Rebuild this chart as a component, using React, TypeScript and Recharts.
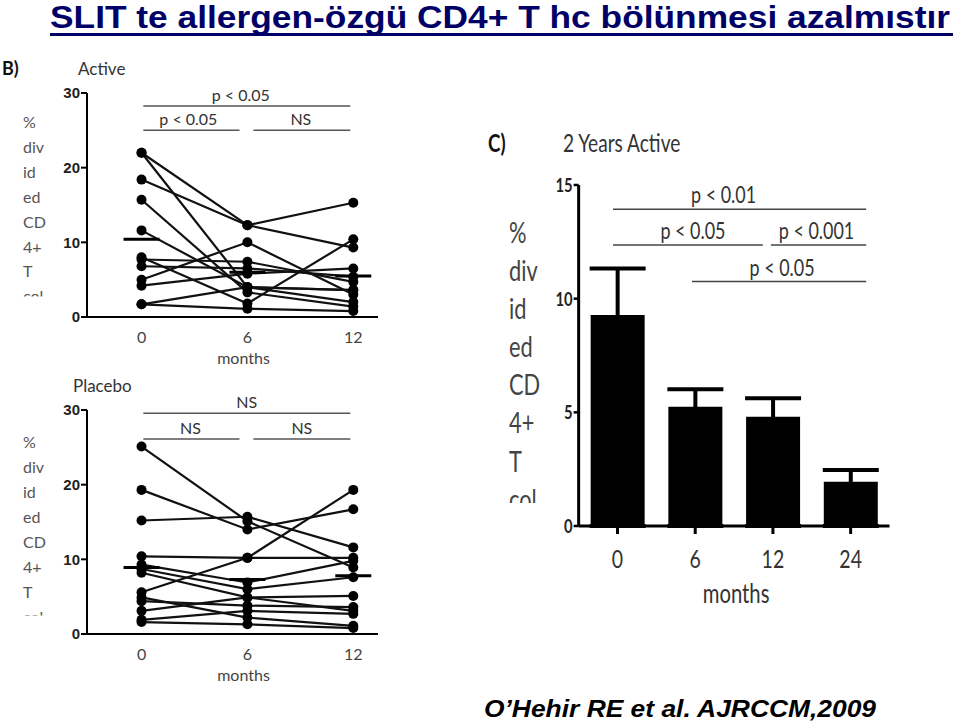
import React from 'react';
import { ComposedChart, Line, Scatter, XAxis, YAxis, ReferenceLine, Bar, ErrorBar } from 'recharts';

// ---------- data ----------
const months = [0, 6, 12];

// Active group: one value per subject at each timepoint
const activeM0 = [22.0, 18.4, 22.0, 15.7, 11.6, 8.0, 7.7, 6.8, 5.0, 4.2, 1.7, 1.7];
const activeM6 = [12.3, 12.3, 4.0, 3.3, 4.0, 1.8, 7.4, 6.5, 10.0, 5.8, 4.0, 1.1];
const activeM12 = [15.3, 9.3, 2.0, 1.4, 3.6, 10.4, 4.7, 5.4, 3.0, 6.5, 3.6, 0.8];
const activeMeans = [10.4, 6.0, 5.5];

// Placebo group
const placeboM0 = [25.1, 19.3, 15.2, 10.4, 5.6, 9.3, 8.7, 8.2, 4.9, 4.4, 3.1, 1.9, 1.6];
const placeboM6 = [15.1, 14.0, 15.7, 10.2, 10.2, 6.9, 6.0, 4.9, 2.2, 3.8, 4.9, 3.1, 1.3];
const placeboM12 = [8.9, 16.7, 11.6, 10.2, 19.3, 9.8, 7.6, 5.1, 1.1, 3.6, 3.1, 2.7, 0.8];
const placeboMeans = [8.9, 7.3, 7.8];

// 2 years active (bar chart)
const barMonths = ['0', '6', '12', '24'];
const barMeans = [9.28, 5.25, 4.81, 1.95];
const barSem = [2.05, 0.76, 0.81, 0.51];

// significance annotations (data coordinates)
const activeSig = [
  { from: 0.1, to: 11.83, y: 28.25, text: 'p < 0.05', dx: -6 },
  { from: 0.1, to: 5.55, y: 25.0, text: 'p < 0.05', dx: -3 },
  { from: 6.34, to: 11.83, y: 25.0, text: 'NS', dx: -1 },
];
const placeboSig = [
  { from: 0.1, to: 11.83, y: 29.56, text: 'NS', dx: 0 },
  { from: 0.1, to: 5.55, y: 26.13, text: 'NS', dx: -1 },
  { from: 6.34, to: 11.83, y: 26.13, text: 'NS', dx: 0 },
];
// bar chart x positions in category units (category i is centred at i + 0.5)
const barSig = [
  { from: 0.442, to: 3.7, y: 13.93, text: 'p < 0.01', dx: -16 },
  { from: 0.442, to: 2.37, y: 12.36, text: 'p < 0.05', dx: 5 },
  { from: 2.474, to: 3.7, y: 12.36, text: 'p < 0.001', dx: -2 },
  { from: 1.458, to: 3.7, y: 10.75, text: 'p < 0.05', dx: 3 },
];

const yLabelLines = ['%', 'div', 'id', 'ed', 'CD', '4+', 'T', 'col'];

// ---------- styles ----------
const SANS = "Lato, 'Open Sans', sans-serif";
const ARIAL = "'Liberation Sans', Arial, sans-serif";
const SQ = 0.78; // horizontal squeeze for the condensed look of panel C

const MeanBar = (props: any) => {
  const { cx, cy } = props;
  if (cx == null || cy == null) return null;
  return <line x1={cx - 18} x2={cx + 18} y1={cy} y2={cy} stroke="#000" strokeWidth={3} />;
};

const CondXTick = (props: any) => {
  const { x, y, payload } = props;
  const label = barMonths[Math.floor(payload.value)];
  return (
    <text transform={`translate(${x},${y}) scale(${SQ},1)`} textAnchor="middle" dy="0.71em" fontSize={25} fontFamily={SANS} fill="#333">
      {label}
    </text>
  );
};

const CondYTick = (props: any) => {
  const { x, y, payload } = props;
  return (
    <text transform={`translate(${x},${y}) scale(${SQ},1)`} textAnchor="end" dy="0.36em" fontSize={19} fontWeight="bold" fontFamily={SANS} fill="#222">
      {payload.value}
    </text>
  );
};

const CondSigLabel = (props: any) => {
  const { viewBox, text, dx } = props;
  if (!viewBox) return null;
  const cx = viewBox.x + (viewBox.width || 0) / 2 + dx;
  const y = viewBox.y - 6;
  return (
    <text transform={`translate(${cx},${y}) scale(${SQ},1)`} textAnchor="middle" fontSize={23} fontFamily={SANS} fill="#333">
      {text}
    </text>
  );
};

const CondAxisLabel = (props: any) => {
  const { viewBox } = props;
  if (!viewBox) return null;
  const cx = viewBox.x + viewBox.width / 2 + 2;
  const y = viewBox.y + viewBox.height + 47;
  return (
    <text transform={`translate(${cx},${y}) scale(${SQ},1)`} textAnchor="middle" fontSize={26} fontFamily={SANS} fill="#333">
      months
    </text>
  );
};

function LinePanel({ top, m0, m6, m12, means, sig }: any) {
  const cols = [m0, m6, m12];
  const subjects = m0.map((_: number, i: number) => months.map((m, j) => ({ m, v: cols[j][i] })));
  const meanData = months.map((m, j) => ({ m, v: means[j] }));
  return (
    <div style={{ position: 'absolute', left: 0, top, width: 400, height: 380 }}>
      <ComposedChart width={400} height={380} margin={{ top: 93, right: 22, bottom: 33, left: 47 }}>
        <XAxis
          type="number"
          dataKey="m"
          domain={[-3.09, 13.4]}
          ticks={months}
          allowDataOverflow
          tickLine={false}
          tickMargin={9}
          height={30}
          axisLine={{ stroke: '#000', strokeWidth: 2 }}
          tick={{ fill: '#444', fontSize: 16, fontFamily: SANS }}
          label={{ value: 'months', position: 'bottom', offset: 6, dx: 11, fill: '#444', fontSize: 16, fontFamily: SANS }}
        />
        <YAxis
          type="number"
          dataKey="v"
          domain={[0, 30]}
          ticks={[0, 10, 20, 30]}
          width={40}
          tickSize={6}
          tickMargin={1}
          axisLine={{ stroke: '#000', strokeWidth: 2 }}
          tickLine={{ stroke: '#000', strokeWidth: 2 }}
          tick={{ fill: '#222', fontSize: 15, fontWeight: 'bold', fontFamily: ARIAL }}
        />
        {subjects.map((d: any[], i: number) => (
          <Line
            key={i}
            data={d}
            dataKey="v"
            stroke="#111"
            strokeWidth={2.2}
            dot={{ r: 5, fill: '#000', stroke: '#000', strokeWidth: 0 }}
            activeDot={false}
            isAnimationActive={false}
          />
        ))}
        <Scatter data={meanData} dataKey="v" shape={MeanBar} isAnimationActive={false} />
        {sig.map((s: any, i: number) => (
          <ReferenceLine
            key={'s' + i}
            segment={[{ x: s.from, y: s.y }, { x: s.to, y: s.y }]}
            stroke="#555"
            strokeWidth={1.5}
            ifOverflow="visible"
            label={{ value: s.text, position: 'top', offset: 5, dx: s.dx, fill: '#333', fontSize: 16, fontFamily: SANS }}
          />
        ))}
      </ComposedChart>
    </div>
  );
}

function BarPanel() {
  const data = barMonths.map((month, i) => ({
    pos: i + 0.5,
    month,
    mean: barMeans[i],
    err: [barMeans[i], barSem[i]],
  }));
  return (
    <div style={{ position: 'absolute', left: 480, top: 110, width: 430, height: 510 }}>
      <ComposedChart width={430} height={510} data={data} margin={{ top: 75, right: 20.5, bottom: 64, left: 38.65 }}>
        <XAxis
          dataKey="pos"
          type="number"
          domain={[0, 4]}
          allowDataOverflow
          ticks={[0.5, 1.5, 2.5, 3.5]}
          tickSize={8}
          tickMargin={16}
          height={30}
          axisLine={{ stroke: '#000', strokeWidth: 3 }}
          tickLine={{ stroke: '#000', strokeWidth: 3 }}
          tick={<CondXTick />}
          label={<CondAxisLabel />}
        />
        <YAxis
          domain={[0, 15]}
          ticks={[0, 5, 10, 15]}
          width={60}
          tickSize={5}
          tickMargin={1}
          axisLine={{ stroke: '#000', strokeWidth: 3 }}
          tickLine={{ stroke: '#000', strokeWidth: 2.5 }}
          tick={<CondYTick />}
        />
        <Bar dataKey="mean" fill="#000" barSize={54} isAnimationActive={false}>
          <ErrorBar dataKey="err" width={28} strokeWidth={4} stroke="#000" direction="y" />
        </Bar>
        {barSig.map((s, i) => (
          <ReferenceLine
            key={'b' + i}
            segment={[{ x: s.from, y: s.y }, { x: s.to, y: s.y }]}
            stroke="#444"
            strokeWidth={1.5}
            ifOverflow="visible"
            label={<CondSigLabel text={s.text} dx={s.dx} />}
          />
        ))}
      </ComposedChart>
    </div>
  );
}

function YLabel({ x, baseline, step, clipY, size, fill, id, squeeze }: any) {
  return (
    <g clipPath={`url(#${id})`}>
      <defs>
        <clipPath id={id}>
          <rect x={x - 5} y={0} width={80} height={clipY} />
        </clipPath>
      </defs>
      <g transform={`translate(${x},0) scale(${squeeze},1)`}>
        {yLabelLines.map((t, i) => (
          <text key={i} x={0} y={baseline + i * step} fontSize={size} fontFamily={SANS} fill={fill}>
            {t}
          </text>
        ))}
      </g>
    </g>
  );
}

export default function App() {
  return (
    <div style={{ position: 'absolute', left: 0, top: 0, width: 959, height: 726, background: '#fff', overflow: 'hidden' }}>
      <LinePanel top={0} m0={activeM0} m6={activeM6} m12={activeM12} means={activeMeans} sig={activeSig} />
      <LinePanel top={317} m0={placeboM0} m6={placeboM6} m12={placeboM12} means={placeboMeans} sig={placeboSig} />
      <BarPanel />
      <svg width={959} height={726} style={{ position: 'absolute', left: 0, top: 0, pointerEvents: 'none' }}>
        <text x={50} y={28} fontSize={32} fontWeight="bold" fontFamily={ARIAL} fill="#000066" textLength={900} lengthAdjust="spacingAndGlyphs">
          SLIT te allergen-özgü CD4+ T hc bölünmesi azalmıstır
        </text>
        <rect x={50} y={33} width={903} height={3} fill="#000066" />
        <text x={484} y={717} fontSize={23} fontWeight="bold" fontStyle="italic" fontFamily={ARIAL} fill="#000" textLength={392} lengthAdjust="spacingAndGlyphs">
          O’Hehir RE et al. AJRCCM,2009
        </text>
        <text x={2} y={75} fontSize={18} fontWeight="bold" fontFamily={SANS} fill="#111">B)</text>
        <text x={78} y={75} fontSize={17} fontFamily={SANS} fill="#333">Active</text>
        <text x={73} y={392} fontSize={17} fontFamily={SANS} fill="#333">Placebo</text>
        <g transform={`translate(488,152) scale(${SQ},1)`}>
          <text x={0} y={0} fontSize={24} fontWeight="bold" fontFamily={SANS} fill="#111">C)</text>
        </g>
        <g transform={`translate(563,152) scale(${SQ},1)`}>
          <text x={0} y={0} fontSize={24.5} fontFamily={SANS} fill="#333">2 Years Active</text>
        </g>
        <YLabel id="clipA" x={23} baseline={128} step={24.9} clipY={296.5} size={16} fill="#555" squeeze={1} />
        <YLabel id="clipP" x={23} baseline={448} step={25} clipY={615.5} size={16} fill="#555" squeeze={1} />
        <YLabel id="clipC" x={509} baseline={243} step={38.1} clipY={503} size={28} fill="#444" squeeze={SQ} />
      </svg>
    </div>
  );
}
